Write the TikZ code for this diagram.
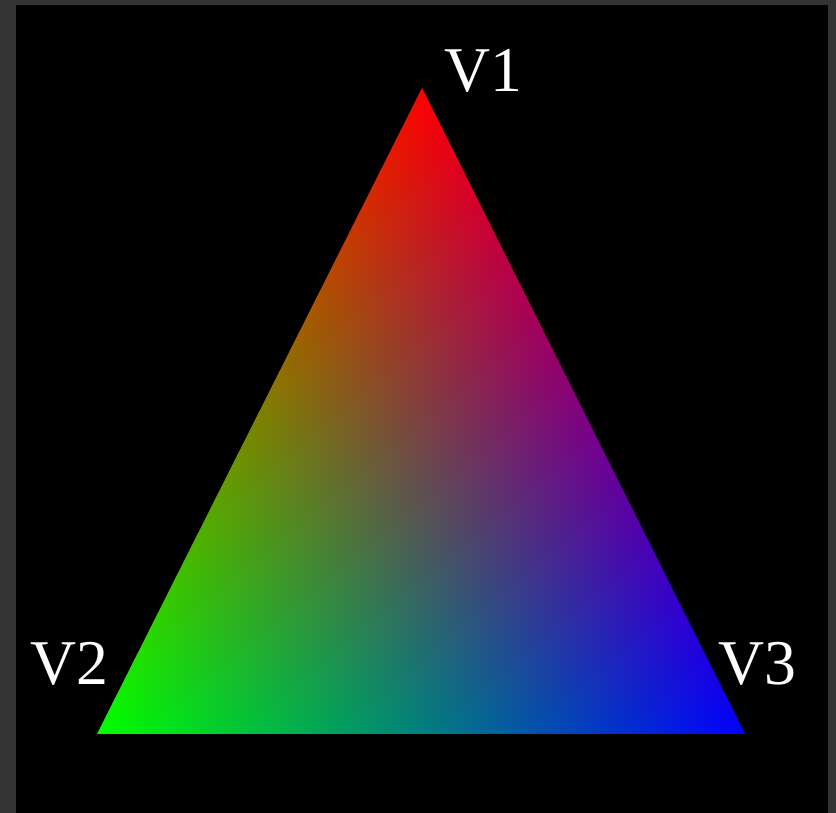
\documentclass[tikz,border=0pt]{standalone}
\usepackage{fontspec}
\setmainfont{Liberation Serif}
\usepackage{xcolor}
\definecolor{framegray}{RGB}{51,51,51}
\usepackage{tikz}
\usetikzlibrary{positioning}

% barycentric red/green/blue over the triangle
\pgfdeclarefunctionalshading{rgbtriangle}{\pgfpoint{0bp}{0bp}}{\pgfpoint{100bp}{100bp}}{}{
  25 sub 50 div exch 25 sub 50 div
  1 index 0.5 mul sub
  2 copy add 1 exch sub exch
  dup 0 lt {pop 0} if dup 1 gt {pop 1} if 3 1 roll
  dup 0 lt {pop 0} if dup 1 gt {pop 1} if 3 1 roll
  dup 0 lt {pop 0} if dup 1 gt {pop 1} if 3 1 roll
}

\begin{document}
\begin{tikzpicture}[
  x=1bp, y=1bp,
  vlabel/.style={text=white, inner sep=0pt, anchor=base,
                 font=\fontsize{64}{70}\selectfont}
]
  \useasboundingbox (0,0) rectangle (836,813);
  \fill[framegray] (0,0) rectangle (836,813);
  \fill[black] (16,0) rectangle (828,808);
  \coordinate (v1) at (422,725);
  \coordinate (v2) at (97,79);
  \coordinate (v3) at (745,79);
  \shade[shading=rgbtriangle] (v1) -- (v2) -- (v3) -- cycle;
  \node[vlabel] (l1) at (483,721) {V1};
  \node[vlabel] (l2) at (69,128) {V2};
  \node[vlabel] (l3) at (757,128) {V3};
\end{tikzpicture}
\end{document}
